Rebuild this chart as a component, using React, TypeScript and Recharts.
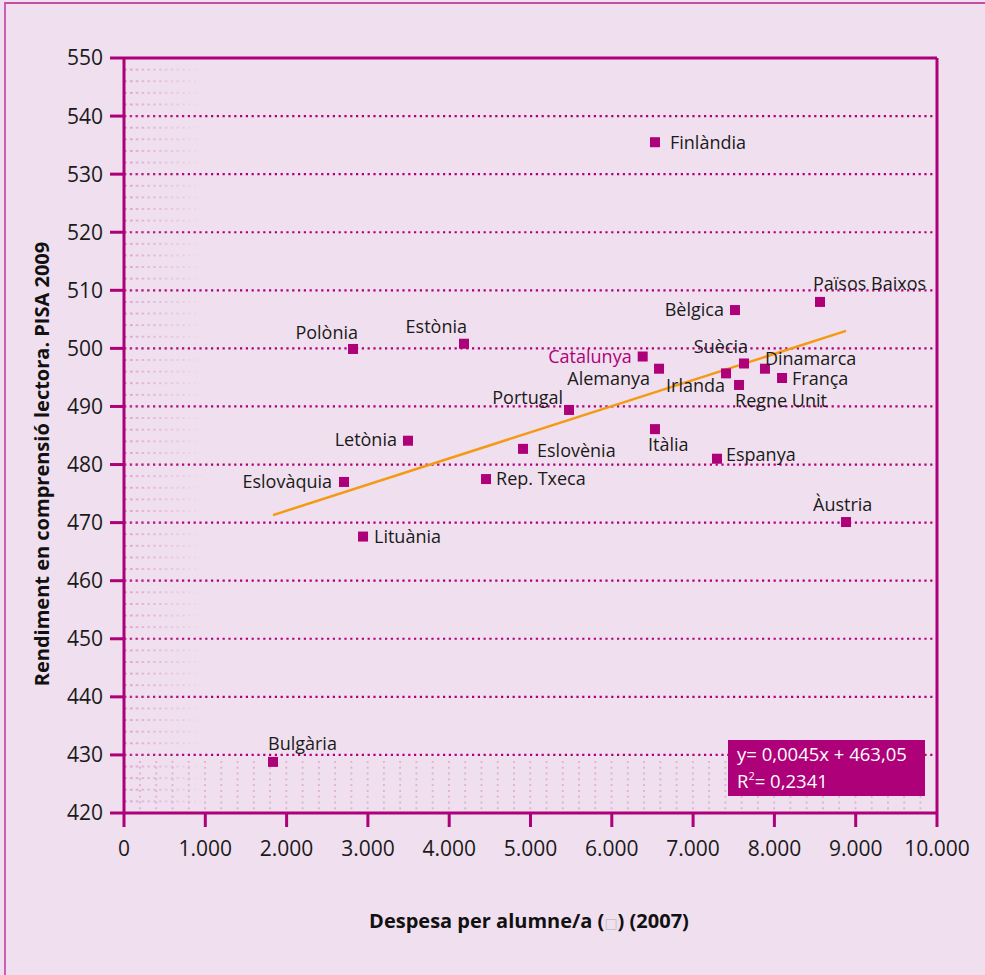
import React from 'react';
import {
  ScatterChart,
  Scatter,
  XAxis,
  YAxis,
  CartesianGrid,
  ReferenceLine,
  ReferenceArea,
} from 'recharts';

// ---------- DATA ----------
const countries = [
  'Finlàndia', 'Països Baixos', 'Bèlgica', 'Polònia', 'Estònia', 'Catalunya',
  'Alemanya', 'Suècia', 'Irlanda', 'Dinamarca', 'França', 'Regne Unit',
  'Portugal', 'Itàlia', 'Letònia', 'Eslovènia', 'Espanya', 'Eslovàquia',
  'Rep. Txeca', 'Àustria', 'Lituània', 'Bulgària',
];
const spending = [
  6531, 8561, 7515, 2817, 4182, 6380,
  6581, 7626, 7405, 7884, 8094, 7565,
  5474, 6531, 3493, 4908, 7294, 2706,
  4453, 8881, 2940, 1833,
];
const reading = [
  535.5, 508.0, 506.6, 499.9, 500.8, 498.6,
  496.5, 497.4, 495.7, 496.5, 494.9, 493.7,
  489.4, 486.1, 484.1, 482.7, 481.0, 477.0,
  477.5, 470.1, 467.6, 428.8,
];
const xTicks = [0, 1000, 2000, 3000, 4000, 5000, 6000, 7000, 8000, 9000, 10000];
const yTicks = [420, 430, 440, 450, 460, 470, 480, 490, 500, 510, 520, 530, 540, 550];
const trendSlope = 0.0045;
const trendIntercept = 463.05;
const equationText = 'y= 0,0045x + 463,05';
const r2Value = '0,2341';
const highlighted = 'Catalunya';
const xTitle = 'Despesa per alumne/a';
const yTitle = 'Rendiment en comprensió lectora. PISA 2009';

// ---------- STYLE ----------
const MAG = '#ae0078';
const BG = '#f0dfee';
const ORANGE = '#f39a12';
const FONT = '"Open Sans", "Noto Sans", sans-serif';

const labelPlacement: Record<string, { dx: number; dy: number; anchor: 'start' | 'end' | 'middle' }> = {
  'Finlàndia': { dx: 15, dy: 0, anchor: 'start' },
  'Països Baixos': { dx: -7, dy: -18, anchor: 'start' },
  'Bèlgica': { dx: -11, dy: 0, anchor: 'end' },
  'Polònia': { dx: 5, dy: -16, anchor: 'end' },
  'Estònia': { dx: 3, dy: -17, anchor: 'end' },
  'Catalunya': { dx: -11, dy: 0, anchor: 'end' },
  'Alemanya': { dx: -9, dy: 10, anchor: 'end' },
  'Suècia': { dx: 4, dy: -17, anchor: 'end' },
  'Irlanda': { dx: -1, dy: 12, anchor: 'end' },
  'Dinamarca': { dx: 0, dy: -10, anchor: 'start' },
  'França': { dx: 10, dy: 1, anchor: 'start' },
  'Regne Unit': { dx: -4, dy: 16, anchor: 'start' },
  'Portugal': { dx: -6, dy: -12, anchor: 'end' },
  'Itàlia': { dx: -7, dy: 16, anchor: 'start' },
  'Letònia': { dx: -11, dy: -1, anchor: 'end' },
  'Eslovènia': { dx: 14, dy: 2, anchor: 'start' },
  'Espanya': { dx: 9, dy: -4, anchor: 'start' },
  'Eslovàquia': { dx: -12, dy: 0, anchor: 'end' },
  'Rep. Txeca': { dx: 10, dy: 0, anchor: 'start' },
  'Àustria': { dx: -33, dy: -17, anchor: 'start' },
  'Lituània': { dx: 11, dy: 0, anchor: 'start' },
  'Bulgària': { dx: -5, dy: -18, anchor: 'start' },
};

const data = countries.map((name, i) => ({ name, x: spending[i], y: reading[i] }));
const minX = Math.min(...spending);
const maxX = Math.max(...spending);
const trendData = [minX, maxX].map((x) => ({ x, y: trendIntercept + trendSlope * x }));

const fmtThousands = (v: number) => {
  if (v === 0) return '0';
  const s = String(v);
  return s.replace(/\B(?=(\d{3})+(?!\d))/g, '.');
};

const PointShape = (props: any) => {
  const { cx, cy, payload } = props;
  if (cx == null || cy == null) return <g />;
  const p = labelPlacement[payload.name] || { dx: 10, dy: 0, anchor: 'start' };
  const isHi = payload.name === highlighted;
  return (
    <g>
      <rect x={cx - 5} y={cy - 5} width={10} height={10} fill={MAG} />
      <text
        x={cx + p.dx}
        y={cy + p.dy}
        dy="0.35em"
        textAnchor={p.anchor}
        fontFamily={FONT}
        fontSize={18}
        fill={isHi ? MAG : '#1a1a1a'}
      >
        {payload.name}
      </text>
    </g>
  );
};

const EmptyShape = () => <g />;

const PatternRect = (fillId: string, maskId?: string) => (props: any) => {
  const { x, y, width, height } = props;
  return (
    <rect
      x={x}
      y={y}
      width={width}
      height={height}
      fill={`url(#${fillId})`}
      mask={maskId ? `url(#${maskId})` : undefined}
    />
  );
};

export default function App() {
  return (
    <div
      style={{
        position: 'absolute',
        left: 0,
        top: 0,
        width: 985,
        height: 975,
        background: BG,
        overflow: 'hidden',
      }}
    >
      <svg width={0} height={0} style={{ position: 'absolute' }}>
        <defs>
          <pattern id="minorRows" patternUnits="userSpaceOnUse" x={124} y={58} width={5.8} height={11.615}>
            <rect x={0.5} y={-0.8} width={2} height={1.6} fill="#c566ac" />
            <rect x={0.5} y={11.615 - 0.8} width={2} height={1.6} fill="#c566ac" />
          </pattern>
          <linearGradient id="fadeGrad" x1="0" y1="0" x2="1" y2="0">
            <stop offset="0" stopColor="#fff" stopOpacity={0.9} />
            <stop offset="0.2" stopColor="#fff" stopOpacity={0.55} />
            <stop offset="1" stopColor="#fff" stopOpacity={0} />
          </linearGradient>
          <mask id="fadeMask" maskContentUnits="objectBoundingBox">
            <rect x={0} y={0} width={1} height={1} fill="url(#fadeGrad)" />
          </mask>
          <pattern id="minorCols" patternUnits="userSpaceOnUse" x={140} y={760} width={16.26} height={5.8}>
            <rect x={-0.8} y={1} width={1.6} height={1.8} fill="#d9a6cd" />
            <rect x={16.26 - 0.8} y={1} width={1.6} height={1.8} fill="#d9a6cd" />
          </pattern>
        </defs>
      </svg>

      {/* outer frame */}
      <div
        style={{
          position: 'absolute',
          left: 4,
          top: 2,
          width: 990,
          height: 990,
          borderTop: '2px solid #c44ea6',
          borderLeft: '2px solid #cf5fb4',
          boxSizing: 'border-box',
        }}
      />

      <div style={{ position: 'absolute', left: 0, top: 0 }}>
        <ScatterChart
          width={985}
          height={975}
          margin={{ top: 58, right: 48, bottom: 112, left: 64 }}
        >
          <ReferenceArea
            x1={0}
            x2={1000}
            y1={420}
            y2={550}
            ifOverflow="visible"
            shape={PatternRect('minorRows', 'fadeMask')}
          />
          <ReferenceArea
            x1={0}
            x2={9850}
            y1={420.5}
            y2={429}
            ifOverflow="visible"
            shape={PatternRect('minorCols')}
          />
          <CartesianGrid
            vertical={false}
            stroke={MAG}
            strokeWidth={2.2}
            strokeDasharray="2.2 3.6"
          />
          <XAxis
            type="number"
            dataKey="x"
            domain={[0, 10000]}
            ticks={xTicks}
            interval={0}
            allowDataOverflow
            height={50}
            tickSize={14}
            tickMargin={14}
            tickFormatter={fmtThousands}
            axisLine={{ stroke: MAG, strokeWidth: 3 }}
            tickLine={{ stroke: MAG, strokeWidth: 3 }}
            tick={{ fill: '#1a1a1a', fontSize: 21, fontFamily: FONT }}
            label={{
              content: () => (
                <text
                  x={529}
                  y={921}
                  dy="0.35em"
                  textAnchor="middle"
                  fontFamily={FONT}
                  fontSize={20}
                  fontWeight={700}
                  fill="#111"
                >
                  {xTitle} (
                  <tspan fill="#c0c0c0" fontWeight={400} fontSize={14} fontFamily='"DejaVu Sans", sans-serif'>□</tspan>
                  ) (2007)
                </text>
              ),
            }}
          />
          <YAxis
            type="number"
            dataKey="y"
            domain={[420, 550]}
            ticks={yTicks}
            interval={0}
            allowDataOverflow
            width={60}
            tickSize={14}
            tickMargin={7}
            axisLine={{ stroke: MAG, strokeWidth: 3 }}
            tickLine={{ stroke: MAG, strokeWidth: 3 }}
            tick={{ fill: '#1a1a1a', fontSize: 21, fontFamily: FONT }}
            label={{
              content: () => (
                <text
                  x={42}
                  y={464}
                  dy="0.35em"
                  transform="rotate(-90 42 464)"
                  textAnchor="middle"
                  fontFamily={FONT}
                  fontSize={20}
                  fontWeight={700}
                  fill="#111"
                >
                  {yTitle}
                </text>
              ),
            }}
          />
          <ReferenceLine y={550} stroke={MAG} strokeWidth={3} />
          <ReferenceLine x={10000} stroke={MAG} strokeWidth={3} />
          <Scatter
            data={trendData}
            line={{ stroke: ORANGE, strokeWidth: 2.5 }}
            shape={EmptyShape}
            isAnimationActive={false}
            legendType="none"
          />
          <Scatter data={data} shape={PointShape} isAnimationActive={false} legendType="none" />
        </ScatterChart>
      </div>

      {/* regression equation box */}
      <div
        style={{
          position: 'absolute',
          left: 728,
          top: 740,
          width: 197,
          height: 56,
          background: MAG,
          color: '#fff',
          fontFamily: FONT,
          fontSize: 18.5,
          lineHeight: '27px',
          paddingLeft: 9,
          paddingTop: 0,
          boxSizing: 'border-box',
          whiteSpace: 'nowrap',
        }}
      >
        <div>{equationText}</div>
        <div>
          R<sup style={{ fontSize: 11, verticalAlign: 'top', lineHeight: '18px' }}>2</sup>= {r2Value}
        </div>
      </div>
    </div>
  );
}
